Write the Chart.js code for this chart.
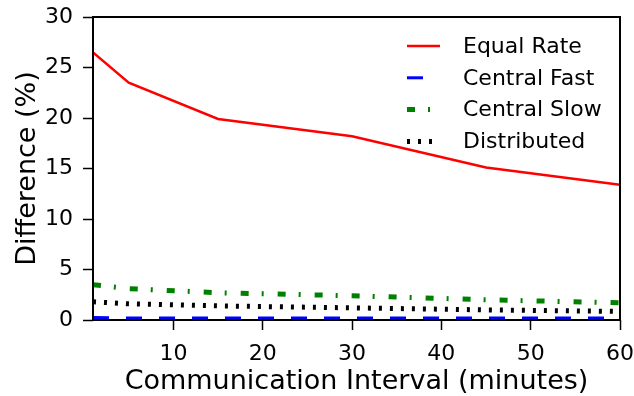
<!DOCTYPE html>
<html>
<head>
<meta charset="utf-8">
<script src="https://cdn.jsdelivr.net/npm/chart.js@4.4.0/dist/chart.umd.min.js"></script>
<style>
    html, body { margin: 0; padding: 0; background: #fff; }
    #wrap { width: 634px; height: 396px; }
</style>
</head>
<body>
<div id="wrap"><canvas id="myChart" width="634" height="396"></canvas></div>
<script>
// communication interval in minutes
var intervals = [1, 5, 15, 30, 45, 60];

// difference (%) per scheme
var equalRate    = [26.5, 23.5, 19.9, 18.2, 15.1, 13.4];
var centralFast  = [0.25, 0.2, 0.2, 0.2, 0.2, 0.2];
var centralSlow  = [3.5, 3.1, 2.7, 2.4, 2.0, 1.7];
var distributed  = [1.8, 1.6, 1.4, 1.2, 1.0, 0.85];

var seriesNames = ["Equal Rate", "Central Fast", "Central Slow", "Distributed"];
var xTickValues = [10, 20, 30, 40, 50, 60];
var yTickValues = [0, 5, 10, 15, 20, 25, 30];

var FONT = "'DejaVu Sans', sans-serif";

function points(values){
    var pts = [];
    for (var i = 0; i < intervals.length; i++) {
        pts.push({x: intervals[i], y: values[i]});
    }
    return pts;
}

// box around the plot area
var frame = {
    id: 'frame',
    afterDatasetsDraw: function(chart){
        var a = chart.chartArea;
        var ctx = chart.ctx;
        ctx.save();
        ctx.strokeStyle = '#000';
        ctx.lineWidth = 2;
        ctx.strokeRect(a.left, a.top, a.right - a.left, a.bottom - a.top);
        ctx.restore();
    }
};

// legend drawn inside the plot, top right
var innerLegend = {
    id: 'innerLegend',
    afterDraw: function(chart){
        var ctx = chart.ctx;
        var sets = chart.data.datasets;
        ctx.save();
        ctx.font = '22px ' + FONT;
        ctx.textBaseline = 'middle';
        ctx.fillStyle = '#000';
        for (var i = 0; i < sets.length; i++) {
            var y = 46 + i * 31.8;
            ctx.beginPath();
            ctx.strokeStyle = sets[i].borderColor;
            ctx.lineWidth = sets[i].borderWidth;
            ctx.lineCap = 'butt';
            ctx.setLineDash(sets[i].borderDash || []);
            ctx.moveTo(407, y);
            ctx.lineTo(440, y);
            ctx.stroke();
            ctx.setLineDash([]);
            ctx.fillText(sets[i].label, 463, y + 1);
        }
        ctx.restore();
    }
};

var ctx = document.getElementById('myChart').getContext('2d');
var chart = new Chart(ctx, {
    type: 'line',
    data: {
        datasets: [{
            label: seriesNames[0],
            data: points(equalRate),
            borderColor: '#ff0000',
            borderWidth: 2.5,
        }, {
            label: seriesNames[1],
            data: points(centralFast),
            borderColor: '#0000ff',
            borderWidth: 3,
            borderDash: [16, 17],
        }, {
            label: seriesNames[2],
            data: points(centralSlow),
            borderColor: '#008000',
            borderWidth: 5,
            borderDash: [8, 13, 2, 14],
        }, {
            label: seriesNames[3],
            data: points(distributed),
            borderColor: '#000000',
            borderWidth: 5,
            borderDash: [3, 8],
        }]
    },
    options: {
        responsive: false,
        animation: false,
        events: [],
        elements: {
            point: { radius: 0 },
            line: { tension: 0, fill: false, borderCapStyle: 'butt' }
        },
        layout: { padding: { top: 17, right: 14, left: 0, bottom: 0 } },
        plugins: {
            legend: { display: false },
            tooltip: { enabled: false }
        },
        scales: {
            x: {
                type: 'linear',
                min: 1,
                max: 60,
                afterBuildTicks: function(axis){
                    axis.ticks = xTickValues.map(function(v){ return {value: v}; });
                },
                afterFit: function(axis){
                    axis.height = 76;
                    axis.paddingLeft = 0;
                    axis.paddingRight = 0;
                },
                border: { display: false },
                grid: {
                    drawOnChartArea: false,
                    drawTicks: true,
                    tickLength: 10,
                    tickWidth: 1.5,
                    tickColor: '#000'
                },
                ticks: {
                    color: '#000',
                    font: { family: FONT, size: 22 },
                    padding: 11,
                    maxRotation: 0
                },
                title: {
                    display: true,
                    text: 'Communication Interval (minutes)',
                    color: '#000',
                    font: { family: FONT, size: 27 },
                    padding: { top: 0, bottom: -2 }
                }
            },
            y: {
                min: 0,
                max: 30,
                afterBuildTicks: function(axis){
                    axis.ticks = yTickValues.map(function(v){ return {value: v}; });
                },
                afterFit: function(axis){
                    axis.width = 93;
                    axis.paddingTop = 0;
                    axis.paddingBottom = 0;
                },
                border: { display: false },
                grid: {
                    drawOnChartArea: false,
                    drawTicks: true,
                    tickLength: 10,
                    tickWidth: 1.5,
                    tickColor: '#000'
                },
                ticks: {
                    color: '#000',
                    font: { family: FONT, size: 22 },
                    padding: 10
                },
                title: {
                    display: true,
                    text: 'Difference (%)',
                    color: '#000',
                    font: { family: FONT, size: 27 },
                    padding: { top: 12, bottom: 0 }
                }
            }
        }
    },
    plugins: [frame, innerLegend]
});
</script>
</body>
</html>
